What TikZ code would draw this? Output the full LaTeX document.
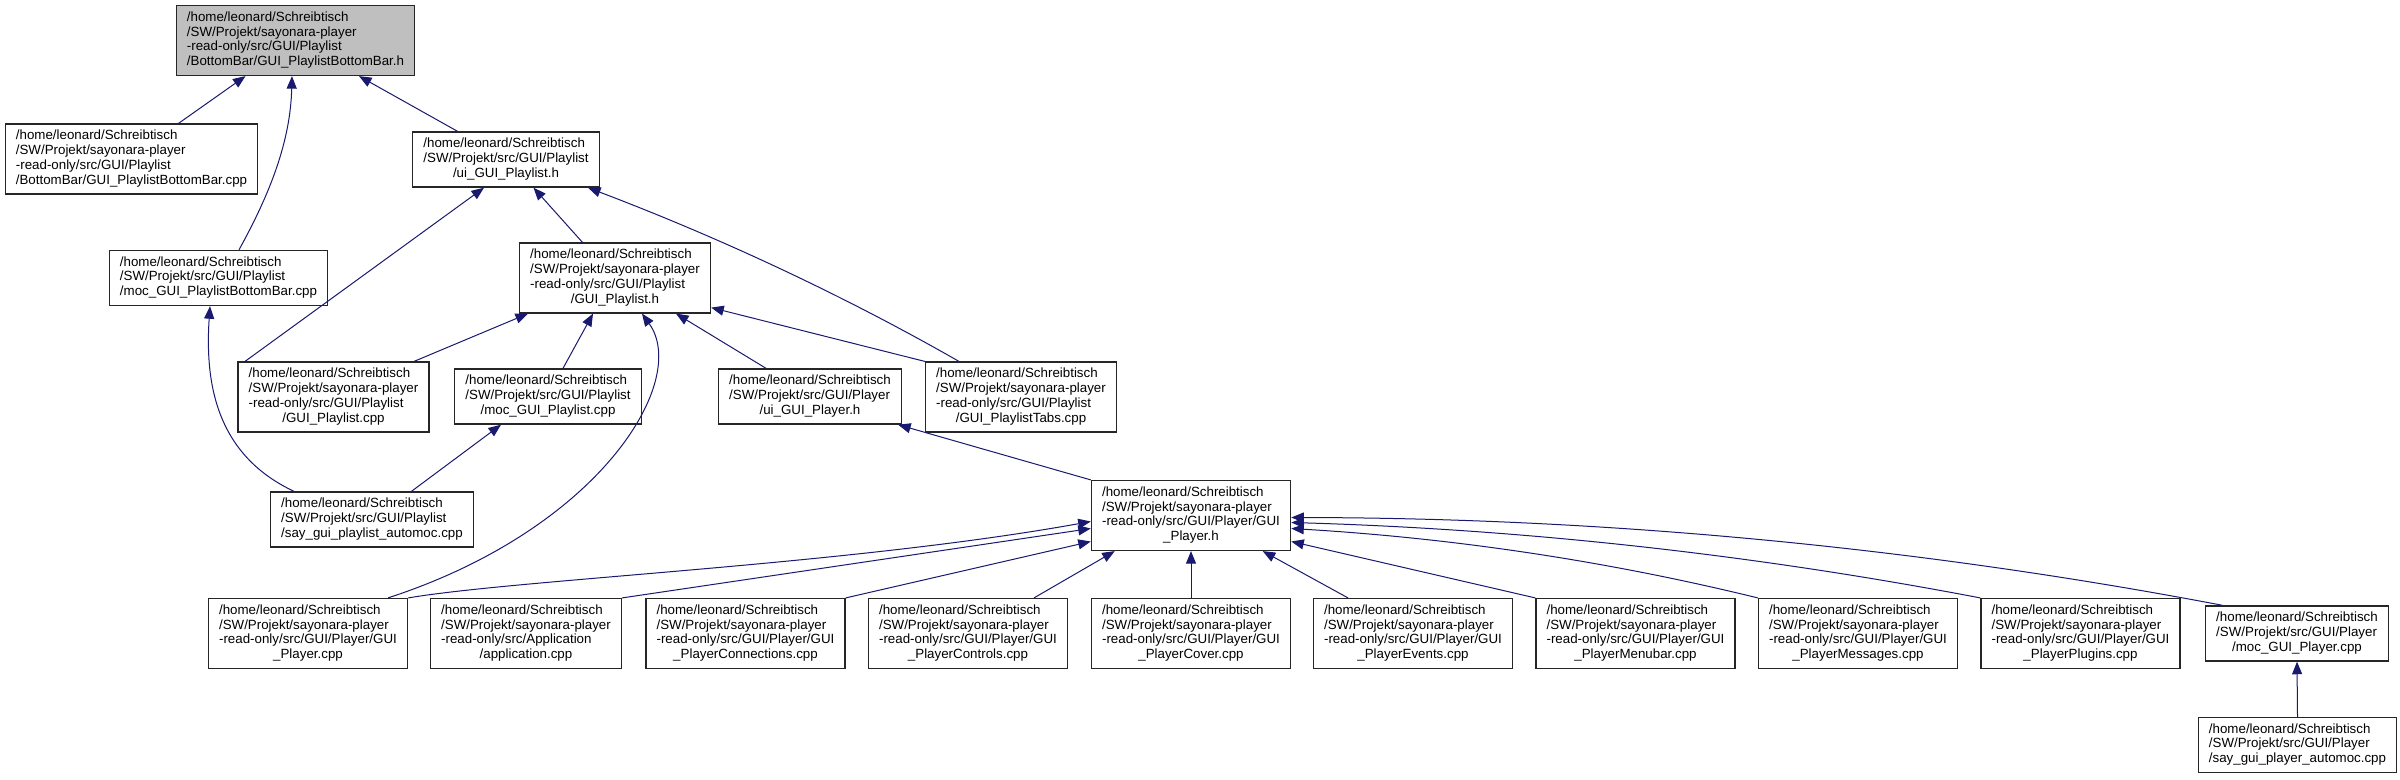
\documentclass[tikz,border=0pt]{standalone}
\usepackage{fontspec}
\setmainfont{Liberation Sans}
\usepackage{tikz}
\usetikzlibrary{arrows.meta, calc}
\definecolor{edgeblue}{HTML}{191970}
\definecolor{curgray}{HTML}{BFBFBF}
% label lines: flush left, the last one centred
\newcommand{\srclines}[1]{\begin{tabular}{@{}l@{}}#1\end{tabular}}
\newcommand{\lastln}[1]{\multicolumn{1}{@{}c@{}}{#1}}
\newcommand{\homedir}{/home/leonard/Schreibtisch}
\newcommand{\sayro}{/SW/Projekt/sayonara-player}
\newcommand{\projsrc}{/SW/Projekt/src/GUI}

\begin{document}
\begin{tikzpicture}[
  x=0.75pt, y=-0.75pt,
  srcbox/.style={draw=black!85, line width=1pt, fill=white,
                 inner xsep=8pt, inner ysep=4pt,
                 font=\fontsize{10}{11.1}\selectfont},
  curbox/.style={srcbox, fill=curgray},
  dep/.style={draw=edgeblue, line width=0.75pt,
              -{Triangle[length=9.4pt, width=7.5pt]}}
]
  \fill[white] (0,0) rectangle (2400,779);
  \useasboundingbox (0,0) rectangle (2400,779);

  % playlist side
  \node[curbox] (root) at (295.5,40.5)
       {\srclines{\homedir\\ \sayro\\ -read-only/src/GUI/Playlist\\ \lastln{/BottomBar/GUI\_PlaylistBottomBar.h}}};
  \node[srcbox] (bbcpp) at (131.5,159)
       {\srclines{\homedir\\ \sayro\\ -read-only/src/GUI/Playlist\\ \lastln{/BottomBar/GUI\_PlaylistBottomBar.cpp}}};
  \node[srcbox] (uipl) at (506,159.5)
       {\srclines{\homedir\\ \projsrc/Playlist\\ \lastln{/ui\_GUI\_Playlist.h}}};
  \node[srcbox] (mocbb) at (218.5,278)
       {\srclines{\homedir\\ \projsrc/Playlist\\ \lastln{/moc\_GUI\_PlaylistBottomBar.cpp}}};
  \node[srcbox] (guiplh) at (615,278)
       {\srclines{\homedir\\ \sayro\\ -read-only/src/GUI/Playlist\\ \lastln{/GUI\_Playlist.h}}};
  \node[srcbox] (guiplcpp) at (333.5,397)
       {\srclines{\homedir\\ \sayro\\ -read-only/src/GUI/Playlist\\ \lastln{/GUI\_Playlist.cpp}}};
  \node[srcbox] (mocpl) at (548,396.5)
       {\srclines{\homedir\\ \projsrc/Playlist\\ \lastln{/moc\_GUI\_Playlist.cpp}}};
  \node[srcbox] (uipla) at (810,396.5)
       {\srclines{\homedir\\ \projsrc/Player\\ \lastln{/ui\_GUI\_Player.h}}};
  \node[srcbox] (tabs) at (1021,397)
       {\srclines{\homedir\\ \sayro\\ -read-only/src/GUI/Playlist\\ \lastln{/GUI\_PlaylistTabs.cpp}}};
  \node[srcbox] (saypl) at (372,519.5)
       {\srclines{\homedir\\ \projsrc/Playlist\\ \lastln{/say\_gui\_playlist\_automoc.cpp}}};

  % player side
  \node[srcbox] (guiplayerh) at (1191,515.5)
       {\srclines{\homedir\\ \sayro\\ -read-only/src/GUI/Player/GUI\\ \lastln{\_Player.h}}};
  \node[srcbox] (playercpp) at (308,633.5)
       {\srclines{\homedir\\ \sayro\\ -read-only/src/GUI/Player/GUI\\ \lastln{\_Player.cpp}}};
  \node[srcbox] (app) at (526,633.5)
       {\srclines{\homedir\\ \sayro\\ -read-only/src/Application\\ \lastln{/application.cpp}}};
  \node[srcbox] (conn) at (745.5,633.5)
       {\srclines{\homedir\\ \sayro\\ -read-only/src/GUI/Player/GUI\\ \lastln{\_PlayerConnections.cpp}}};
  \node[srcbox] (ctrl) at (968,633.5)
       {\srclines{\homedir\\ \sayro\\ -read-only/src/GUI/Player/GUI\\ \lastln{\_PlayerControls.cpp}}};
  \node[srcbox] (cover) at (1191,633.5)
       {\srclines{\homedir\\ \sayro\\ -read-only/src/GUI/Player/GUI\\ \lastln{\_PlayerCover.cpp}}};
  \node[srcbox] (events) at (1413,633.5)
       {\srclines{\homedir\\ \sayro\\ -read-only/src/GUI/Player/GUI\\ \lastln{\_PlayerEvents.cpp}}};
  \node[srcbox] (menubar) at (1635.5,633.5)
       {\srclines{\homedir\\ \sayro\\ -read-only/src/GUI/Player/GUI\\ \lastln{\_PlayerMenubar.cpp}}};
  \node[srcbox] (messages) at (1858,633.5)
       {\srclines{\homedir\\ \sayro\\ -read-only/src/GUI/Player/GUI\\ \lastln{\_PlayerMessages.cpp}}};
  \node[srcbox] (plugins) at (2080.5,633.5)
       {\srclines{\homedir\\ \sayro\\ -read-only/src/GUI/Player/GUI\\ \lastln{\_PlayerPlugins.cpp}}};
  \node[srcbox] (mocplayer) at (2297,633.5)
       {\srclines{\homedir\\ \projsrc/Player\\ \lastln{/moc\_GUI\_Player.cpp}}};
  \node[srcbox] (sayplayer) at (2297.5,745)
       {\srclines{\homedir\\ \projsrc/Player\\ \lastln{/say\_gui\_player\_automoc.cpp}}};

  % includes of the bottom bar header
  \draw[dep] ($(bbcpp.north)+(47,0)$) -- ($(root.south)+(-50,0)$);
  \draw[dep] ($(mocbb.north)+(20.5,0)$) .. controls ($(mocbb.north)+(51.5,-56)$)
        and ($(root.south)+(-5,65)$) .. ($(root.south)+(-3.5,0)$);
  \draw[dep] ($(uipl.north)+(-48.5,0)$) -- ($(root.south)+(63.5,0)$);

  % ui_GUI_Playlist.h
  \draw[dep] ($(guiplh.north)+(-32.5,0)$) -- ($(uipl.south)+(27.5,0)$);
  \draw[dep] ($(guiplcpp.north)+(-88.5,0)$) -- ($(uipl.south)+(-22,0)$);
  \draw[dep] ($(tabs.north)+(-62,0)$) .. controls ($(tabs.north)+(-181,-68)$)
        and ($(uipl.south)+(211,49)$) .. ($(uipl.south)+(82,0)$);

  % GUI_Playlist.h
  \draw[dep] ($(guiplcpp.north)+(80.5,0)$) -- ($(guiplh.south)+(-87,0)$);
  \draw[dep] ($(mocpl.north)+(15,0)$) -- ($(guiplh.south)+(-22,0)$);
  \draw[dep] ($(uipla.north)+(-44,0)$) -- ($(guiplh.south)+(61,0)$);
  \draw[dep] (tabs.north west) -- ($(guiplh.south east)+(0,-6)$);
  \draw[dep] ($(playercpp.north)+(80,0)$) .. controls ($(playercpp.north)+(292,-69)$)
        and ($(guiplh.south)+(75,67)$) .. ($(guiplh.south)+(27,0)$);

  % moc files
  \draw[dep] ($(saypl.north)+(39.5,0)$) -- ($(mocpl.south)+(-47,0)$);
  \draw[dep] ($(saypl.north)+(-78,0)$) .. controls ($(saypl.north)+(-157,-37)$)
        and ($(mocbb.south)+(-13.5,75)$) .. ($(mocbb.south)+(-8.5,0)$);

  % GUI_Player.h
  \draw[dep] (guiplayerh.north west) -- ($(uipla.south east)+(-4,0)$);
  \draw[dep] (playercpp.north east) .. controls ($(playercpp.north east)+(113,-19)$)
        and ($(guiplayerh.west)+(-241.6,49.5)$) .. ($(guiplayerh.west)+(0,6)$);
  \draw[dep] (app.north east) -- ($(guiplayerh.west)+(0,13)$);
  \draw[dep] (conn.north east) -- ($(guiplayerh.west)+(0,26)$);
  \draw[dep] ($(ctrl.north)+(66,0)$) -- ($(guiplayerh.south west)+(24,0)$);
  \draw[dep] (cover.north) -- (guiplayerh.south);
  \draw[dep] ($(events.north)+(-65,0)$) -- ($(guiplayerh.south east)+(-28.5,0)$);
  \draw[dep] (menubar.north west) -- ($(guiplayerh.east)+(0,26)$);
  \draw[dep] (messages.north west) .. controls ($(messages.north west)+(-153,-37.5)$)
        and ($(guiplayerh.east)+(160,22.5)$) .. ($(guiplayerh.east)+(0,13)$);
  \draw[dep] (plugins.north west) .. controls ($(plugins.north west)+(-228,-43.6)$)
        and ($(guiplayerh.east)+(232.5,13.8)$) .. ($(guiplayerh.east)+(0,7)$);
  \draw[dep] ($(mocplayer.north west)+(17.6,0)$) .. controls ($(mocplayer.north west)+(-290.6,-58.6)$)
        and ($(guiplayerh.east)+(313.6,2.5)$) .. ($(guiplayerh.east)+(0,2)$);
  \draw[dep] (sayplayer.north) -- (mocplayer.south);
\end{tikzpicture}
\end{document}
